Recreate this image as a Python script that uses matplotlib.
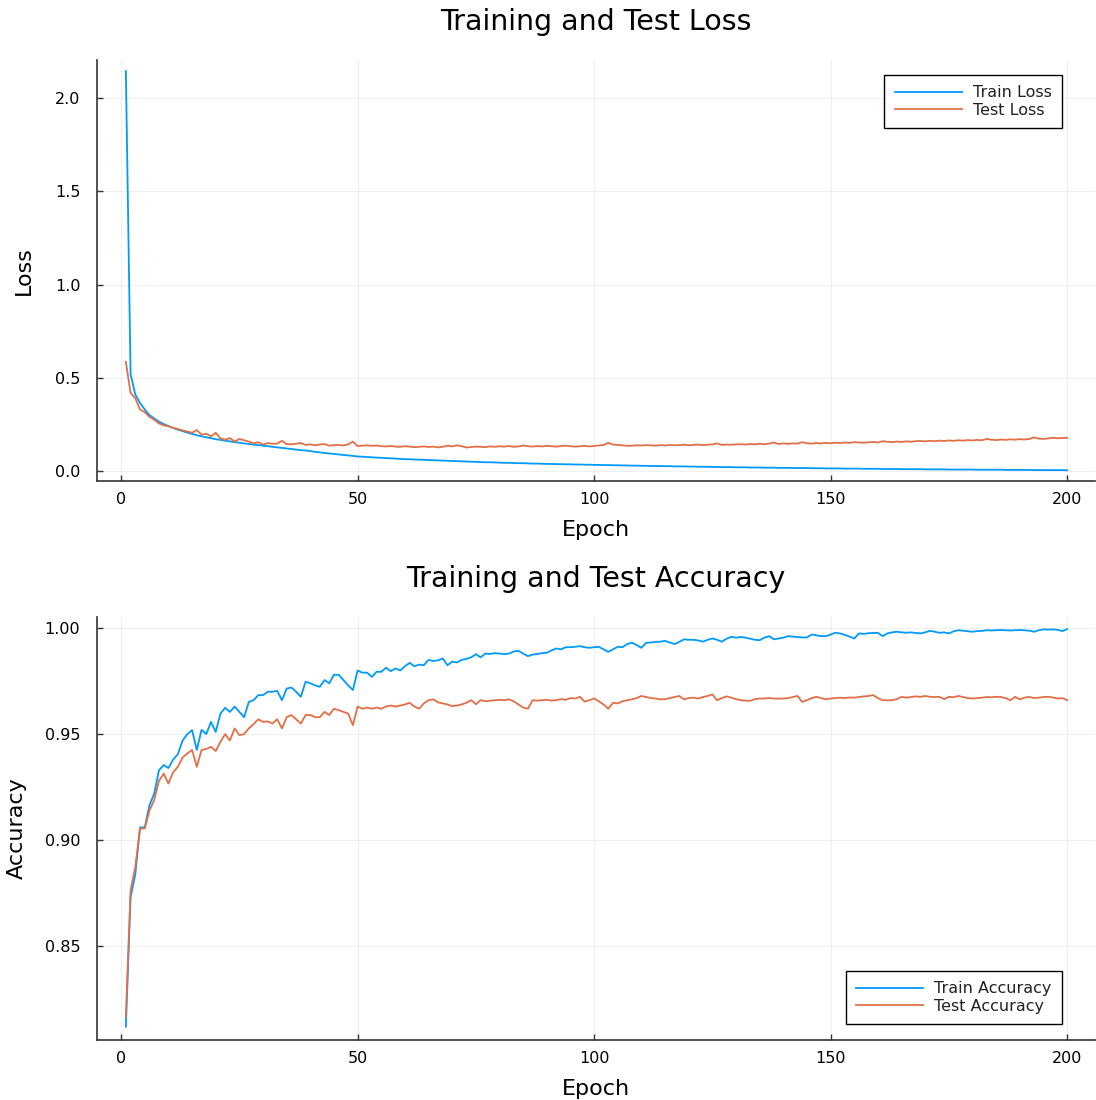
import matplotlib
matplotlib.use("Agg")
import matplotlib.pyplot as plt
import numpy as np

# --- DATA ---
epochs = list(range(1, 201))

train_loss = [
    2.145, 0.52, 0.41, 0.365, 0.33, 0.30, 0.282, 0.265, 0.252, 0.241,
    0.231, 0.222, 0.214, 0.206, 0.199, 0.192, 0.186, 0.181, 0.176, 0.171,
    0.167, 0.163, 0.159, 0.155, 0.152, 0.148, 0.145, 0.142, 0.139, 0.136,
    0.133, 0.130, 0.127, 0.124, 0.121, 0.118, 0.115, 0.112, 0.110, 0.107,
    0.103, 0.100, 0.097, 0.094, 0.092, 0.089, 0.086, 0.084, 0.081, 0.078,
    0.077, 0.075, 0.074, 0.072, 0.071, 0.069, 0.068, 0.067, 0.065, 0.064,
    0.063, 0.062, 0.061, 0.060, 0.059, 0.058, 0.057, 0.056, 0.055, 0.054,
    0.053, 0.052, 0.051, 0.050, 0.049, 0.048, 0.047, 0.047, 0.046, 0.045,
    0.044, 0.044, 0.043, 0.042, 0.042, 0.041, 0.040, 0.040, 0.039, 0.038,
    0.038, 0.037, 0.037, 0.036, 0.036, 0.035, 0.035, 0.034, 0.034, 0.033,
    0.033, 0.032, 0.032, 0.031, 0.031, 0.030, 0.030, 0.029, 0.029, 0.028,
    0.028, 0.027, 0.027, 0.027, 0.026, 0.026, 0.025, 0.025, 0.025, 0.024,
    0.024, 0.023, 0.023, 0.023, 0.022, 0.022, 0.021, 0.021, 0.021, 0.020,
    0.020, 0.020, 0.019, 0.019, 0.019, 0.018, 0.018, 0.018, 0.017, 0.017,
    0.017, 0.016, 0.016, 0.016, 0.016, 0.015, 0.015, 0.015, 0.014, 0.014,
    0.014, 0.014, 0.013, 0.013, 0.013, 0.013, 0.012, 0.012, 0.012, 0.012,
    0.011, 0.011, 0.011, 0.011, 0.010, 0.010, 0.010, 0.010, 0.010, 0.009,
    0.009, 0.009, 0.009, 0.009, 0.008, 0.008, 0.008, 0.008, 0.008, 0.008,
    0.007, 0.007, 0.007, 0.007, 0.007, 0.007, 0.006, 0.006, 0.006, 0.006,
    0.006, 0.006, 0.005, 0.005, 0.005, 0.005, 0.005, 0.005, 0.005, 0.004,
]

test_loss = [
    0.585, 0.42, 0.39, 0.33, 0.315, 0.29, 0.275, 0.255, 0.245, 0.24,
    0.232, 0.225, 0.218, 0.212, 0.205, 0.22, 0.195, 0.2, 0.186, 0.205,
    0.175, 0.168, 0.177, 0.158, 0.172, 0.165, 0.158, 0.148, 0.155, 0.142,
    0.15, 0.146, 0.147, 0.162, 0.145, 0.143, 0.147, 0.15, 0.14, 0.143,
    0.138, 0.142, 0.145, 0.136, 0.139, 0.14, 0.137, 0.143, 0.158, 0.134,
    0.136, 0.138, 0.135, 0.137, 0.133, 0.132, 0.134, 0.131, 0.13, 0.133,
    0.131, 0.128, 0.13, 0.132, 0.129, 0.131, 0.127, 0.13, 0.136, 0.132,
    0.138, 0.133, 0.126, 0.129, 0.131, 0.13, 0.128, 0.132, 0.13, 0.133,
    0.131, 0.134, 0.13, 0.132, 0.137, 0.133, 0.131, 0.134, 0.132, 0.135,
    0.133, 0.131, 0.134, 0.136, 0.133, 0.131, 0.133, 0.135, 0.132, 0.134,
    0.137, 0.14, 0.151, 0.142, 0.14, 0.138, 0.135, 0.136, 0.138, 0.137,
    0.139, 0.138, 0.136, 0.139, 0.137, 0.14, 0.138, 0.139, 0.141, 0.138,
    0.14, 0.142, 0.139, 0.141, 0.143, 0.148, 0.14, 0.142, 0.141, 0.143,
    0.144, 0.142, 0.145, 0.143, 0.146, 0.144, 0.147, 0.153, 0.145, 0.148,
    0.146, 0.148, 0.147, 0.155, 0.149, 0.147, 0.15, 0.148, 0.151, 0.149,
    0.152, 0.15, 0.153, 0.151, 0.155, 0.153, 0.152, 0.154, 0.156, 0.153,
    0.16, 0.157, 0.155, 0.158, 0.156, 0.159, 0.157, 0.16, 0.161, 0.159,
    0.162, 0.16, 0.163, 0.161, 0.164, 0.162, 0.165, 0.163, 0.166, 0.164,
    0.167, 0.165, 0.172, 0.168, 0.166, 0.169, 0.167, 0.17, 0.168, 0.171,
    0.169, 0.172, 0.18, 0.174, 0.172, 0.175, 0.178, 0.176, 0.177, 0.178,
]

train_acc = [
    0.812, 0.873, 0.884, 0.906, 0.906, 0.9165, 0.922, 0.933, 0.9354, 0.934,
    0.938, 0.9406, 0.947, 0.950, 0.9519, 0.9425, 0.952, 0.950, 0.9558, 0.951,
    0.9597, 0.9624, 0.9605, 0.963, 0.9605, 0.958, 0.9652, 0.966, 0.9684, 0.9684,
    0.970, 0.970, 0.9704, 0.966, 0.9715, 0.972, 0.970, 0.9676, 0.9747, 0.974,
    0.973, 0.9723, 0.9755, 0.974, 0.978, 0.978, 0.9755, 0.973, 0.9708, 0.980,
    0.979, 0.979, 0.977, 0.9794, 0.9794, 0.9813, 0.9797, 0.981, 0.980, 0.982,
    0.9836, 0.982, 0.9828, 0.9825, 0.985, 0.9845, 0.9848, 0.9857, 0.9825, 0.9842,
    0.9838, 0.985, 0.9855, 0.9862, 0.9877, 0.9862, 0.988, 0.9878, 0.9882, 0.988,
    0.9877, 0.988, 0.989, 0.9893, 0.988, 0.9868, 0.9875, 0.9878, 0.9882, 0.9884,
    0.9895, 0.9904, 0.990, 0.991, 0.991, 0.9912, 0.9915, 0.991, 0.9907, 0.991,
    0.9912, 0.990, 0.9888, 0.990, 0.9912, 0.991, 0.9925, 0.9931, 0.992, 0.9907,
    0.9931, 0.9932, 0.9935, 0.9936, 0.994, 0.9932, 0.9925, 0.9935, 0.9947, 0.9945,
    0.9945, 0.9942, 0.9936, 0.9945, 0.9951, 0.9945, 0.9936, 0.995, 0.9959, 0.9955,
    0.9958, 0.9955, 0.995, 0.9945, 0.9943, 0.9955, 0.9962, 0.9947, 0.9951, 0.9955,
    0.9962, 0.996, 0.9958, 0.9956, 0.9956, 0.997, 0.9966, 0.9962, 0.9962, 0.997,
    0.9978, 0.9975, 0.9968, 0.996, 0.9951, 0.9975, 0.9973, 0.9976, 0.9977, 0.9978,
    0.9962, 0.9975, 0.998, 0.9983, 0.998, 0.9978, 0.998, 0.9977, 0.9975, 0.998,
    0.9987, 0.9983, 0.9978, 0.998, 0.9975, 0.9985, 0.999, 0.9988, 0.9985, 0.9983,
    0.9986, 0.9987, 0.999, 0.9989, 0.999, 0.9991, 0.999, 0.9989, 0.999, 0.9991,
    0.999, 0.9988, 0.9983, 0.999, 0.9994, 0.9993, 0.9994, 0.9992, 0.9986, 0.9995,
]

test_acc = [
    0.8167, 0.8764, 0.8874, 0.9055, 0.9055, 0.914, 0.919, 0.928, 0.9314, 0.9267,
    0.932, 0.9346, 0.939, 0.9409, 0.9425, 0.9346, 0.9425, 0.943, 0.944, 0.942,
    0.9464, 0.950, 0.947, 0.9527, 0.9495, 0.950, 0.9527, 0.9547, 0.957, 0.9558,
    0.956, 0.955, 0.957, 0.9527, 0.958, 0.959, 0.957, 0.955, 0.959, 0.959,
    0.958, 0.958, 0.9605, 0.959, 0.962, 0.9613, 0.9605, 0.9597, 0.9542, 0.963,
    0.962, 0.9625, 0.962, 0.9625, 0.962, 0.963, 0.9635, 0.963, 0.9635, 0.964,
    0.9648, 0.963, 0.962, 0.9645, 0.966, 0.9664, 0.965, 0.9645, 0.964, 0.9632,
    0.9635, 0.964, 0.9648, 0.966, 0.9641, 0.966, 0.9655, 0.9658, 0.966, 0.9662,
    0.966, 0.9664, 0.9655, 0.964, 0.9625, 0.962, 0.966, 0.9658, 0.966, 0.9662,
    0.9658, 0.966, 0.9665, 0.9662, 0.967, 0.9668, 0.9676, 0.9653, 0.966, 0.9668,
    0.9655, 0.964, 0.962, 0.9648, 0.9645, 0.9655, 0.966, 0.9664, 0.967, 0.968,
    0.9675, 0.967, 0.9668, 0.9664, 0.9665, 0.967, 0.9675, 0.968, 0.9664, 0.967,
    0.9672, 0.9668, 0.9675, 0.968, 0.9687, 0.966, 0.967, 0.9678, 0.9672, 0.9665,
    0.966, 0.9658, 0.9657, 0.9665, 0.9668, 0.9668, 0.967, 0.9668, 0.9667, 0.9668,
    0.967, 0.9675, 0.968, 0.9652, 0.966, 0.967, 0.9676, 0.967, 0.9664, 0.9668,
    0.967, 0.9672, 0.967, 0.9673, 0.9672, 0.9675, 0.9678, 0.968, 0.9684, 0.967,
    0.966, 0.966, 0.966, 0.9665, 0.9676, 0.9672, 0.9675, 0.9678, 0.9676, 0.968,
    0.9676, 0.9675, 0.9676, 0.9665, 0.9676, 0.9674, 0.968, 0.9675, 0.967, 0.9668,
    0.967, 0.9672, 0.9675, 0.9674, 0.9676, 0.9675, 0.967, 0.966, 0.9676, 0.9664,
    0.9672, 0.9676, 0.967, 0.9672, 0.9675, 0.9676, 0.9673, 0.9668, 0.967, 0.966,
]

x_ticks = [0, 50, 100, 150, 200]
loss_ticks = [0.0, 0.5, 1.0, 1.5, 2.0]
acc_ticks = [0.85, 0.90, 0.95, 1.00]

BLUE = "#009AFA"
ORANGE = "#E36F47"

plt.rcParams['font.family'] = ['DejaVu Sans']

fig = plt.figure(figsize=(10.96, 11.0), dpi=100)
ax_loss = fig.add_axes([0.0885, 0.5627, 0.9106, 0.3827])
ax_acc = fig.add_axes([0.0885, 0.0545, 0.9106, 0.3845])


def style_axes(ax, title, ylabel, ylabelpad):
    # Plots.jl-like look: only left/bottom spines, faint grid, inward ticks
    for side in ["top", "right"]:
        ax.spines[side].set_visible(False)
    for side in ["left", "bottom"]:
        ax.spines[side].set_color("#333333")
        ax.spines[side].set_linewidth(1.2)
    ax.grid(True, color="black", alpha=0.06, linewidth=0.8)
    ax.set_axisbelow(True)
    ax.tick_params(direction="in", length=4, width=1, color="#333333",
                   labelsize=11.5, labelcolor="black")
    ax.tick_params(axis="x", pad=8)
    ax.tick_params(axis="y", pad=12)
    ax.set_xticks(x_ticks)
    ax.set_xlim(-5.1, 205.9)
    ax.set_title(title, fontsize=20.5, pad=22)
    ax.set_xlabel("Epoch", fontsize=16, labelpad=9)
    ax.set_ylabel(ylabel, fontsize=16, labelpad=ylabelpad)


def add_legend(ax, loc, anchor):
    leg = ax.legend(loc=loc, bbox_to_anchor=anchor,
                    fontsize=11.5, handlelength=4.2, labelspacing=0.15,
                    fancybox=False, framealpha=1, borderpad=0.65,
                    handletextpad=0.7, borderaxespad=0)
    leg.get_frame().set_edgecolor("black")
    leg.get_frame().set_linewidth(1.0)
    for t in leg.get_texts():
        t.set_color("#222222")
    return leg


# --- 1. LOSS ---
ax_loss.plot(epochs, train_loss, color=BLUE, linewidth=1.3, label="Train Loss")
ax_loss.plot(epochs, test_loss, color=ORANGE, linewidth=1.3, label="Test Loss")
style_axes(ax_loss, "Training and Test Loss", "Loss", 15)
ax_loss.set_ylim(-0.0536, 2.204)
ax_loss.set_yticks(loss_ticks)
ax_loss.set_yticklabels([f"{v:.1f}" for v in loss_ticks])
add_legend(ax_loss, "upper right", (0.967, 0.965))

# --- 2. ACCURACY ---
ax_acc.plot(epochs, train_acc, color=BLUE, linewidth=1.3, label="Train Accuracy")
ax_acc.plot(epochs, test_acc, color=ORANGE, linewidth=1.3, label="Test Accuracy")
style_axes(ax_acc, "Training and Test Accuracy", "Accuracy", 13)
ax_acc.set_ylim(0.8057, 1.0052)
ax_acc.set_yticks(acc_ticks)
ax_acc.set_yticklabels([f"{v:.2f}" for v in acc_ticks])
add_legend(ax_acc, "lower right", (0.967, 0.038))

fig.savefig("out.png", dpi=100)
